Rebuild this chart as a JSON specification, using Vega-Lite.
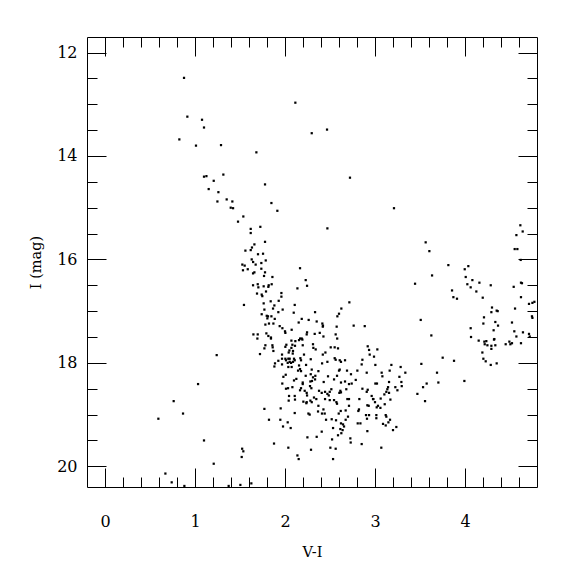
{
"$schema": "https://vega.github.io/schema/vega-lite/v6.json",
"width": 450, "height": 450,
"autosize": {"type": "none"},
"padding": {"left": 87, "top": 37, "right": 38, "bottom": 88},
"background": "white",
"config": {"view": {"stroke": "#000", "strokeWidth": 1},
 "axis": {"grid": false, "domain": false, "tickColor": "#000", "labelColor": "#000", "titleColor": "#000", "labelFont": "DejaVu Serif", "titleFont": "DejaVu Serif", "labelFontSize": 16, "titleFontSize": 14.5, "titleFontWeight": "normal", "tickWidth": 1, "labelFlush": false, "labelOverlap": false}},
"data": {"values": [
{"vi":0.878,"imag":12.49},{"vi":0.915,"imag":13.24},{"vi":1.078,"imag":13.30},{"vi":1.10,"imag":13.45},{"vi":0.826,"imag":13.68},{"vi":1.011,"imag":13.80},{"vi":1.289,"imag":13.79},{"vi":1.315,"imag":14.36},{"vi":1.10,"imag":14.40},{"vi":1.127,"imag":14.39},{"vi":1.208,"imag":14.48},{"vi":1.152,"imag":14.64},{"vi":2.115,"imag":12.97},{"vi":2.467,"imag":13.49},{"vi":2.297,"imag":13.56},{"vi":1.682,"imag":13.93},{"vi":2.722,"imag":14.42},{"vi":1.778,"imag":14.55},{"vi":1.26,"imag":14.70},{"vi":1.352,"imag":14.84},{"vi":1.415,"imag":14.88},{"vi":1.249,"imag":14.88},{"vi":1.397,"imag":15.00},{"vi":1.423,"imag":15.01},{"vi":1.478,"imag":15.27},{"vi":1.849,"imag":14.91},{"vi":1.915,"imag":15.06},{"vi":1.537,"imag":15.17},{"vi":1.726,"imag":15.37},{"vi":1.619,"imag":15.41},{"vi":1.619,"imag":15.49},{"vi":2.471,"imag":15.40},{"vi":1.778,"imag":15.66},{"vi":1.66,"imag":15.71},{"vi":1.633,"imag":15.77},{"vi":1.56,"imag":15.83},{"vi":1.619,"imag":15.82},{"vi":1.70,"imag":15.90},{"vi":1.756,"imag":15.89},{"vi":1.63,"imag":16.00},{"vi":1.646,"imag":16.05},{"vi":1.786,"imag":16.02},{"vi":1.737,"imag":16.07},{"vi":1.674,"imag":16.10},{"vi":1.526,"imag":16.10},{"vi":1.552,"imag":16.12},{"vi":1.586,"imag":16.19},{"vi":1.533,"imag":16.21},{"vi":1.737,"imag":16.18},{"vi":2.167,"imag":16.17},{"vi":1.66,"imag":16.25},{"vi":1.645,"imag":16.27},{"vi":1.778,"imag":16.25},{"vi":1.767,"imag":16.32},{"vi":1.86,"imag":16.34},{"vi":2.23,"imag":16.40},{"vi":2.245,"imag":16.51},{"vi":2.138,"imag":16.56},{"vi":1.645,"imag":16.50},{"vi":1.697,"imag":16.48},{"vi":1.704,"imag":16.54},{"vi":1.763,"imag":16.52},{"vi":1.819,"imag":16.50},{"vi":1.815,"imag":16.53},{"vi":1.852,"imag":16.48},{"vi":1.789,"imag":16.62},{"vi":1.689,"imag":16.66},{"vi":1.741,"imag":16.68},{"vi":1.748,"imag":16.71},{"vi":1.96,"imag":16.65},{"vi":1.96,"imag":16.72},{"vi":1.841,"imag":16.81},{"vi":1.93,"imag":16.80},{"vi":2.715,"imag":16.83},{"vi":1.544,"imag":16.88},{"vi":1.882,"imag":16.89},{"vi":2.108,"imag":16.88},{"vi":1.763,"imag":16.85},{"vi":2.626,"imag":16.95},{"vi":1.867,"imag":16.95},{"vi":1.771,"imag":16.97},{"vi":1.974,"imag":16.97},{"vi":2.097,"imag":17.03},{"vi":2.334,"imag":17.02},{"vi":2.60,"imag":17.05},{"vi":2.582,"imag":17.10},{"vi":1.741,"imag":17.06},{"vi":1.797,"imag":17.09},{"vi":1.811,"imag":17.10},{"vi":1.804,"imag":17.14},{"vi":1.849,"imag":17.10},{"vi":1.886,"imag":17.15},{"vi":1.926,"imag":17.02},{"vi":2.186,"imag":17.15},{"vi":2.263,"imag":17.17},{"vi":2.152,"imag":17.22},{"vi":2.352,"imag":17.20},{"vi":1.822,"imag":17.24},{"vi":1.782,"imag":17.26},{"vi":1.871,"imag":17.24},{"vi":1.941,"imag":17.29},{"vi":1.971,"imag":17.33},{"vi":2.0,"imag":17.39},{"vi":2.004,"imag":17.42},{"vi":2.074,"imag":17.36},{"vi":2.415,"imag":17.24},{"vi":2.422,"imag":17.28},{"vi":2.42,"imag":17.30},{"vi":2.574,"imag":17.30},{"vi":2.763,"imag":17.28},{"vi":2.886,"imag":17.29},{"vi":1.649,"imag":17.45},{"vi":1.697,"imag":17.45},{"vi":1.793,"imag":17.43},{"vi":1.815,"imag":17.48},{"vi":1.844,"imag":17.51},{"vi":1.844,"imag":17.53},{"vi":1.693,"imag":17.53},{"vi":2.245,"imag":17.41},{"vi":2.241,"imag":17.45},{"vi":2.33,"imag":17.44},{"vi":2.386,"imag":17.42},{"vi":2.427,"imag":17.49},{"vi":2.563,"imag":17.45},{"vi":2.58,"imag":17.53},{"vi":2.168,"imag":17.53},{"vi":2.186,"imag":17.53},
{"vi":1.782,"imag":17.66},{"vi":1.771,"imag":17.72},{"vi":1.86,"imag":17.66},{"vi":1.863,"imag":17.70},{"vi":1.871,"imag":17.77},{"vi":1.722,"imag":17.83},{"vi":2.071,"imag":17.57},{"vi":2.115,"imag":17.58},{"vi":2.156,"imag":17.56},{"vi":2.193,"imag":17.55},{"vi":2.015,"imag":17.65},{"vi":2.004,"imag":17.69},{"vi":2.082,"imag":17.65},{"vi":2.071,"imag":17.71},{"vi":2.111,"imag":17.67},{"vi":2.197,"imag":17.66},{"vi":2.049,"imag":17.76},{"vi":2.089,"imag":17.77},{"vi":2.086,"imag":17.82},{"vi":2.041,"imag":17.80},{"vi":2.311,"imag":17.64},{"vi":2.315,"imag":17.71},{"vi":2.341,"imag":17.74},{"vi":2.211,"imag":17.84},{"vi":1.967,"imag":17.84},{"vi":1.926,"imag":17.96},{"vi":1.967,"imag":17.92},{"vi":2.004,"imag":17.92},{"vi":2.037,"imag":17.92},{"vi":2.052,"imag":17.92},{"vi":2.011,"imag":17.95},{"vi":2.052,"imag":17.98},{"vi":2.089,"imag":17.98},{"vi":2.10,"imag":17.92},{"vi":2.108,"imag":17.95},{"vi":2.171,"imag":17.91},{"vi":2.178,"imag":17.95},{"vi":2.286,"imag":17.93},{"vi":1.889,"imag":18.01},{"vi":1.882,"imag":18.07},{"vi":1.967,"imag":18.03},{"vi":2.03,"imag":18.00},{"vi":2.067,"imag":18.00},{"vi":2.037,"imag":18.08},{"vi":2.074,"imag":18.08},{"vi":2.156,"imag":18.05},{"vi":2.167,"imag":18.12},{"vi":2.145,"imag":18.15},{"vi":2.178,"imag":18.16},{"vi":2.234,"imag":18.04},{"vi":2.297,"imag":18.13},{"vi":2.42,"imag":17.84},{"vi":2.449,"imag":17.80},{"vi":2.471,"imag":17.98},{"vi":2.412,"imag":18.01},{"vi":2.508,"imag":17.70},{"vi":2.552,"imag":17.70},{"vi":2.589,"imag":17.72},{"vi":2.552,"imag":17.91},{"vi":2.563,"imag":17.94},{"vi":2.608,"imag":17.95},{"vi":2.622,"imag":17.98},{"vi":2.667,"imag":17.95},{"vi":2.608,"imag":18.13},{"vi":2.60,"imag":18.15},{"vi":2.371,"imag":18.16},{"vi":2.286,"imag":18.22},{"vi":2.23,"imag":18.25},{"vi":2.337,"imag":18.25},{"vi":2.311,"imag":18.28},{"vi":2.30,"imag":18.35},{"vi":2.282,"imag":18.36},{"vi":2.334,"imag":18.32},{"vi":2.126,"imag":18.31},{"vi":2.10,"imag":18.34},{"vi":2.008,"imag":18.23},{"vi":1.982,"imag":18.27},{"vi":1.97,"imag":18.40},{"vi":2.197,"imag":18.41},{"vi":2.167,"imag":18.53},{"vi":2.178,"imag":18.49},{"vi":2.082,"imag":18.47},{"vi":2.034,"imag":18.49},{"vi":2.108,"imag":18.64},{"vi":2.045,"imag":18.64},{"vi":2.111,"imag":18.71},{"vi":2.041,"imag":18.73},{"vi":2.245,"imag":18.63},{"vi":2.282,"imag":18.73},{"vi":2.297,"imag":18.76},{"vi":2.237,"imag":18.78},{"vi":2.322,"imag":18.67},{"vi":2.348,"imag":18.70},{"vi":2.371,"imag":18.83},{"vi":2.378,"imag":18.54},{"vi":2.408,"imag":18.58},{"vi":2.445,"imag":18.56},{"vi":2.471,"imag":18.60},{"vi":2.43,"imag":18.37},{"vi":2.478,"imag":18.26},{"vi":2.545,"imag":18.32},{"vi":2.578,"imag":18.25},{"vi":2.622,"imag":18.38},{"vi":2.615,"imag":18.54},{"vi":2.622,"imag":18.57},{"vi":2.604,"imag":18.58},{"vi":2.667,"imag":18.36},{"vi":2.689,"imag":18.15},{"vi":2.733,"imag":18.22},{"vi":2.786,"imag":18.33},{"vi":2.741,"imag":18.40},{"vi":2.711,"imag":18.41},{"vi":2.804,"imag":18.15},{"vi":2.86,"imag":17.94},{"vi":2.852,"imag":18.03},{"vi":2.919,"imag":17.68},{"vi":2.934,"imag":17.75},{"vi":2.941,"imag":17.84},{"vi":3.026,"imag":17.74},{"vi":2.989,"imag":17.88},{"vi":3.004,"imag":18.04},{"vi":2.908,"imag":18.19},{"vi":3.074,"imag":18.19},{"vi":3.082,"imag":18.26},{"vi":3.004,"imag":18.40},{"vi":3.022,"imag":18.40},{"vi":3.156,"imag":18.37},{"vi":2.919,"imag":18.52},{"vi":2.908,"imag":18.56},{"vi":2.86,"imag":18.50},{"vi":3.145,"imag":18.47},{"vi":3.137,"imag":18.51},{"vi":3.104,"imag":18.61},{"vi":3.063,"imag":18.69},{"vi":3.156,"imag":18.58},{"vi":2.978,"imag":18.70},{"vi":3.0,"imag":18.76},{"vi":3.033,"imag":18.83},{"vi":3.019,"imag":18.86},{"vi":3.06,"imag":18.87},{"vi":2.822,"imag":18.90},{"vi":2.815,"imag":18.93},{"vi":2.934,"imag":19.01},{"vi":2.90,"imag":19.01},{"vi":2.911,"imag":19.08},{"vi":3.015,"imag":19.01},{"vi":3.015,"imag":19.07},{"vi":3.119,"imag":19.01},{"vi":3.089,"imag":19.18},{"vi":3.119,"imag":19.21},{"vi":3.149,"imag":19.15},{"vi":2.808,"imag":19.17},{"vi":2.838,"imag":19.17},{"vi":2.915,"imag":19.32},{"vi":2.852,"imag":19.57},{"vi":3.07,"imag":19.64},{"vi":2.674,"imag":18.92},{"vi":2.711,"imag":18.83},{"vi":2.619,"imag":18.93},{"vi":2.597,"imag":18.98},{"vi":2.571,"imag":18.76},{"vi":2.578,"imag":18.79},{"vi":2.545,"imag":18.72},{"vi":2.497,"imag":18.72},{"vi":2.486,"imag":18.63},{"vi":2.445,"imag":18.70},{"vi":2.427,"imag":18.90},{"vi":2.441,"imag":18.98},{"vi":2.411,"imag":18.98},{"vi":2.519,"imag":19.09},{"vi":2.567,"imag":19.11},{"vi":2.456,"imag":19.10},{"vi":2.622,"imag":19.17},{"vi":2.645,"imag":19.19},{"vi":2.656,"imag":19.23},{"vi":2.674,"imag":19.10},{"vi":2.70,"imag":19.04},{"vi":2.534,"imag":19.26},{"vi":2.615,"imag":19.28},{"vi":2.64,"imag":19.30},{"vi":2.589,"imag":19.40},{"vi":2.626,"imag":19.36},{"vi":2.726,"imag":19.46},{"vi":2.73,"imag":19.54},{"vi":2.523,"imag":19.48},{"vi":2.504,"imag":19.64},{"vi":2.563,"imag":19.66},{"vi":2.534,"imag":19.86},{"vi":2.289,"imag":19.68},{"vi":2.249,"imag":19.44},{"vi":2.352,"imag":19.43},{"vi":2.408,"imag":19.33},{"vi":2.138,"imag":19.79},{"vi":2.152,"imag":19.86},{"vi":2.037,"imag":19.64},{"vi":1.878,"imag":19.56},{"vi":1.978,"imag":19.23},{"vi":2.063,"imag":19.26},{"vi":2.03,"imag":19.15},{"vi":1.948,"imag":19.10},{"vi":1.952,"imag":18.88},{"vi":1.822,"imag":19.10},{"vi":1.771,"imag":18.89},{"vi":2.108,"imag":18.97},{"vi":2.011,"imag":18.50},{"vi":2.197,"imag":18.38},{"vi":2.219,"imag":18.54},{"vi":2.241,"imag":18.58},{"vi":2.278,"imag":18.45},{"vi":2.293,"imag":18.49},{"vi":2.204,"imag":18.75},{"vi":2.241,"imag":18.76},{"vi":2.26,"imag":18.98},{"vi":2.274,"imag":19.00},{"vi":2.367,"imag":18.94},{"vi":2.497,"imag":18.56},{"vi":2.515,"imag":18.51},{"vi":2.681,"imag":18.51},{"vi":2.693,"imag":18.70},{"vi":2.711,"imag":18.70},{"vi":2.826,"imag":18.70},{"vi":2.915,"imag":18.82},{"vi":2.93,"imag":18.83},{"vi":2.982,"imag":18.70},{"vi":2.963,"imag":18.64},{"vi":3.108,"imag":18.80},{"vi":3.126,"imag":19.04},{"vi":1.524,"imag":19.66},{"vi":1.537,"imag":19.71},{"vi":1.519,"imag":19.82},{"vi":1.504,"imag":20.36},{"vi":1.626,"imag":20.33},
{"vi":4.152,"imag":17.57},{"vi":4.215,"imag":17.59},{"vi":4.237,"imag":17.58},{"vi":4.219,"imag":17.64},{"vi":4.249,"imag":17.66},{"vi":4.322,"imag":17.55},{"vi":4.337,"imag":17.66},{"vi":4.293,"imag":17.67},{"vi":4.293,"imag":17.73},{"vi":4.193,"imag":17.80},{"vi":4.204,"imag":17.92},{"vi":4.23,"imag":17.97},{"vi":4.286,"imag":18.04},{"vi":4.352,"imag":18.01},{"vi":4.452,"imag":17.64},{"vi":4.504,"imag":17.64},{"vi":4.493,"imag":17.59},{"vi":4.522,"imag":17.62},{"vi":4.622,"imag":17.62},{"vi":3.163,"imag":18.15},{"vi":3.182,"imag":18.04},{"vi":3.285,"imag":18.08},{"vi":3.337,"imag":18.19},{"vi":3.271,"imag":18.27},{"vi":3.293,"imag":18.37},{"vi":3.297,"imag":18.45},{"vi":3.226,"imag":18.47},{"vi":3.249,"imag":18.53},{"vi":3.126,"imag":18.56},{"vi":3.171,"imag":18.71},{"vi":3.167,"imag":19.10},{"vi":3.237,"imag":19.24},{"vi":3.20,"imag":19.30},{"vi":3.515,"imag":18.02},{"vi":3.471,"imag":18.60},{"vi":3.534,"imag":18.47},{"vi":3.574,"imag":18.40},{"vi":3.556,"imag":18.74},{"vi":3.689,"imag":18.19},{"vi":3.704,"imag":18.38},{"vi":3.752,"imag":17.90},{"vi":3.878,"imag":17.96},{"vi":3.993,"imag":18.35},
{"vi":3.211,"imag":15.01},{"vi":4.615,"imag":15.34},{"vi":4.641,"imag":15.46},{"vi":4.571,"imag":15.53},{"vi":3.563,"imag":15.67},{"vi":3.604,"imag":15.84},{"vi":4.552,"imag":15.80},{"vi":4.582,"imag":15.80},{"vi":4.619,"imag":16.01},{"vi":3.815,"imag":16.11},{"vi":4.037,"imag":16.13},{"vi":3.997,"imag":16.19},{"vi":3.634,"imag":16.31},{"vi":4.008,"imag":16.34},{"vi":4.082,"imag":16.40},{"vi":4.16,"imag":16.45},{"vi":4.026,"imag":16.48},{"vi":4.063,"imag":16.54},{"vi":3.445,"imag":16.47},{"vi":4.286,"imag":16.50},{"vi":4.622,"imag":16.45},{"vi":4.633,"imag":16.46},{"vi":4.541,"imag":16.53},{"vi":4.126,"imag":16.62},{"vi":3.856,"imag":16.60},{"vi":3.871,"imag":16.73},{"vi":3.911,"imag":16.76},{"vi":4.197,"imag":16.74},{"vi":4.622,"imag":16.73},{"vi":4.711,"imag":16.86},{"vi":4.749,"imag":16.84},{"vi":4.771,"imag":16.82},{"vi":4.30,"imag":16.93},{"vi":4.293,"imag":17.02},{"vi":4.352,"imag":16.99},{"vi":4.363,"imag":17.00},{"vi":4.556,"imag":16.95},{"vi":4.211,"imag":17.12},{"vi":4.204,"imag":17.24},{"vi":4.337,"imag":17.21},{"vi":4.367,"imag":17.28},{"vi":4.522,"imag":17.22},{"vi":4.744,"imag":17.10},{"vi":4.749,"imag":17.13},{"vi":3.508,"imag":17.17},{"vi":4.063,"imag":17.33},{"vi":4.318,"imag":17.37},{"vi":4.548,"imag":17.39},{"vi":4.644,"imag":17.41},{"vi":4.711,"imag":17.44},{"vi":4.719,"imag":17.49},{"vi":4.571,"imag":17.49},{"vi":3.626,"imag":17.47},{"vi":4.067,"imag":17.50},{"vi":4.326,"imag":17.54},
{"vi":1.241,"imag":17.85},{"vi":1.034,"imag":18.41},{"vi":0.763,"imag":18.74},{"vi":0.867,"imag":18.98},{"vi":0.593,"imag":19.08},{"vi":1.10,"imag":19.50},{"vi":1.208,"imag":19.95},{"vi":0.671,"imag":20.14},{"vi":0.741,"imag":20.31},{"vi":0.882,"imag":20.38},{"vi":1.374,"imag":20.38}
]},
"resolve": {"axis": {"x": "independent", "y": "independent"}},
"layer": [
 {"mark": {"type": "square", "size": 5, "color": "#000", "opacity": 1},
  "encoding": {
   "x": {"field": "vi", "type": "quantitative", "scale": {"domain": [-0.2, 4.8], "nice": false, "zero": false},
     "axis": {"orient": "bottom", "values": [0,1,2,3,4], "tickSize": -19, "labelPadding": 45, "title": "V-I", "titleY": 69, "titleBaseline": "alphabetic", "format": "d"}},
   "y": {"field": "imag", "type": "quantitative", "scale": {"domain": [11.7, 20.4], "reverse": true, "nice": false, "zero": false},
     "axis": {"orient": "left", "values": [12,14,16,18,20], "tickSize": -19, "labelPadding": 29, "title": "I (mag)", "titleX": -47, "titleBaseline": "alphabetic", "labelBaseline": "middle", "format": "d"}}
  }},
 {"mark": {"type": "square", "opacity": 0},
  "encoding": {
   "x": {"field": "vi", "type": "quantitative", "scale": {"domain": [-0.2, 4.8], "nice": false, "zero": false},
     "axis": {"orient": "bottom", "values": [0.2,0.4,0.6,0.8,1.2,1.4,1.6,1.8,2.2,2.4,2.6,2.8,3.2,3.4,3.6,3.8,4.2,4.4,4.6], "tickSize": -10, "labels": false, "title": null}},
   "y": {"field": "imag", "type": "quantitative", "scale": {"domain": [11.7, 20.4], "reverse": true, "nice": false, "zero": false},
     "axis": {"orient": "left", "values": [12.5,13,13.5,14.5,15,15.5,16.5,17,17.5,18.5,19,19.5], "tickSize": -10, "labels": false, "title": null}}
  }},
 {"mark": {"type": "square", "opacity": 0},
  "encoding": {
   "x": {"field": "vi", "type": "quantitative", "scale": {"domain": [-0.2, 4.8], "nice": false, "zero": false},
     "axis": {"orient": "top", "values": [0,1,2,3,4], "tickSize": -19, "labels": false, "title": null}},
   "y": {"field": "imag", "type": "quantitative", "scale": {"domain": [11.7, 20.4], "reverse": true, "nice": false, "zero": false},
     "axis": {"orient": "right", "values": [12,14,16,18,20], "tickSize": -19, "labels": false, "title": null}}
  }},
 {"mark": {"type": "square", "opacity": 0},
  "encoding": {
   "x": {"field": "vi", "type": "quantitative", "scale": {"domain": [-0.2, 4.8], "nice": false, "zero": false},
     "axis": {"orient": "top", "values": [0.2,0.4,0.6,0.8,1.2,1.4,1.6,1.8,2.2,2.4,2.6,2.8,3.2,3.4,3.6,3.8,4.2,4.4,4.6], "tickSize": -10, "labels": false, "title": null}},
   "y": {"field": "imag", "type": "quantitative", "scale": {"domain": [11.7, 20.4], "reverse": true, "nice": false, "zero": false},
     "axis": {"orient": "right", "values": [12.5,13,13.5,14.5,15,15.5,16.5,17,17.5,18.5,19,19.5], "tickSize": -10, "labels": false, "title": null}}
  }}
]
}
